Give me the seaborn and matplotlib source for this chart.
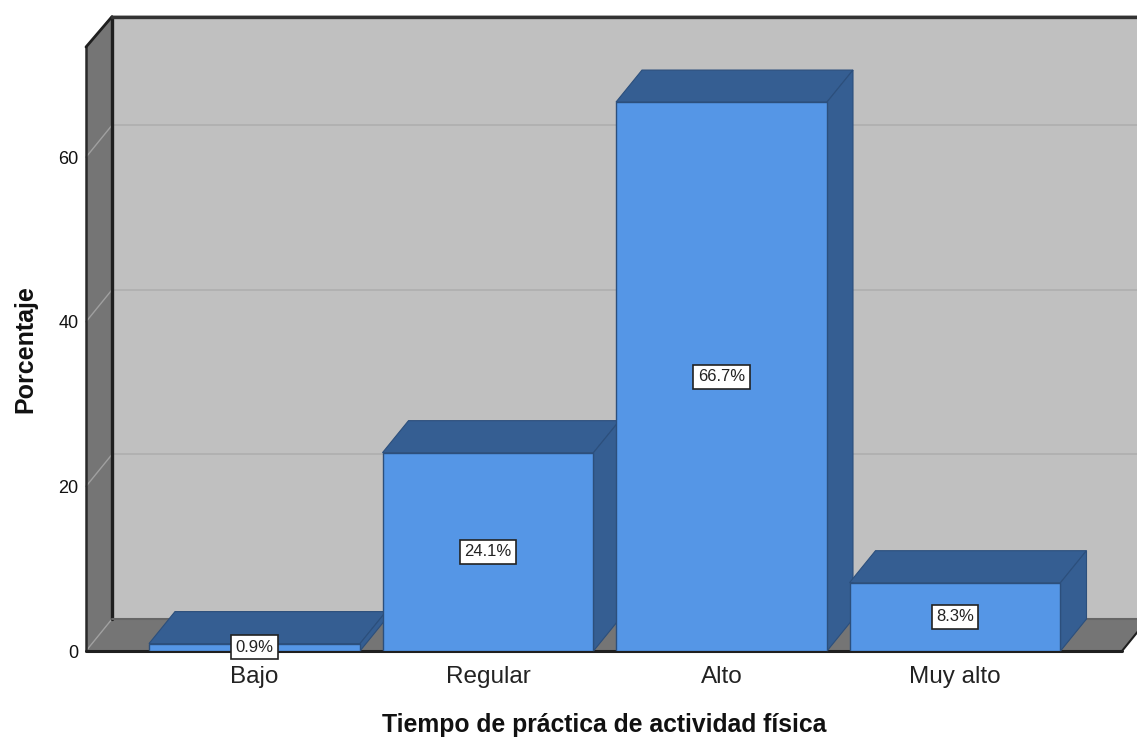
import matplotlib
matplotlib.use("Agg")
import matplotlib.pyplot as plt
from matplotlib.patches import Polygon
import seaborn as sns

categories = ["Bajo", "Regular", "Alto", "Muy alto"]
percentages = [0.9, 24.1, 66.7, 8.3]
value_labels = ["0.9%", "24.1%", "66.7%", "8.3%"]
y_ticks = [0, 20, 40, 60]

FRONT = "#5596e6"
SHADE = "#355e92"
EDGE = "#2c4f7c"
WALL = "#c0c0c0"
DARK_WALL = "#757575"
GRID = "#adadad"
FRAME = "#1f1f1f"

W, H = 1137, 738
sns.set_style("white")
plt.rcParams["font.family"] = ["Liberation Sans", "DejaVu Sans"]

fig = plt.figure(figsize=(W / 100, H / 100), dpi=100)
ax = fig.add_axes([86 / W, (H - 651) / H, 1036 / W, 604 / H])

bar_width = 0.9036
sns.barplot(x=categories, y=percentages, color=FRONT, saturation=1, width=bar_width,
            edgecolor=EDGE, linewidth=1, ax=ax, zorder=5)

xmin, xmax = -0.7216, 3.7152
ymax = 604 / 8.23
ax.set_xlim(xmin, xmax)
ax.set_ylim(0, ymax)

# Oblique depth of the box, in data units
dx = 26 / 233.5
dy = 32 / 8.23


def poly(points, face, edge="none", lw=0.0, z=1):
    ax.add_patch(Polygon(points, closed=True, facecolor=face, edgecolor=edge,
                         linewidth=lw, zorder=z, clip_on=False))


def line(xs, ys, color, lw, z):
    ax.plot(xs, ys, color=color, lw=lw, zorder=z, clip_on=False, solid_capstyle="round")


# Back wall, side wall and floor
poly([(xmin + dx, dy), (xmax + dx, dy), (xmax + dx, ymax + dy), (xmin + dx, ymax + dy)], WALL, z=0.5)
poly([(xmin, 0), (xmin + dx, dy), (xmin + dx, ymax + dy), (xmin, ymax)], DARK_WALL, z=1)
poly([(xmin, 0), (xmax, 0), (xmax + dx, dy), (xmin + dx, dy)], DARK_WALL, z=1)

# Gridlines run across the back wall and fold down the side wall
for t in y_ticks[1:]:
    line([xmin + dx, xmax + dx], [t + dy, t + dy], GRID, 1.1, 1.5)
    line([xmin, xmin + dx], [t, t + dy], "#a0a0a0", 1.0, 1.5)
line([xmin, xmin + dx], [0, dy], "#a0a0a0", 1.0, 1.5)

# Frame of the box
line([xmin, xmin], [0, ymax], "#2a2a2a", 1.8, 2)
line([xmin, xmin + dx], [ymax, ymax + dy - 0.2], FRAME, 2, 2)
line([xmin + dx, xmin + dx], [dy, ymax + dy - 0.2], FRAME, 2.4, 2)
line([xmin + dx, xmax + dx], [ymax + dy - 0.2, ymax + dy - 0.2], "#333333", 2.4, 2)
line([xmin, xmax], [0, 0], FRAME, 2.2, 2)
line([xmin + dx, xmax + dx], [dy, dy], "#666666", 1.5, 2)
line([xmax, xmax + dx], [0, dy], FRAME, 1.5, 2)

# Top and side faces of each bar
half = bar_width / 2
for i, v in enumerate(percentages):
    left, right = i - half, i + half
    poly([(left, v), (right, v), (right + dx, v + dy), (left + dx, v + dy)],
         SHADE, edge=EDGE, lw=0.8, z=4)
    poly([(right, 0), (right + dx, dy), (right + dx, v + dy), (right, v)],
         SHADE, edge=EDGE, lw=0.8, z=4)
    ax.text(i, v / 2 if v > 2 else 0.45, value_labels[i], ha="center", va="center",
            fontsize=12, color="#222222", zorder=7,
            bbox=dict(boxstyle="square,pad=0.27", facecolor="white",
                      edgecolor="#222222", linewidth=1.2))

ax.set_yticks(y_ticks)
ax.set_xticks(range(4))
ax.set_xticklabels(categories)
ax.tick_params(axis="x", length=0, pad=11, labelsize=17.5, labelcolor="#222222")
ax.tick_params(axis="y", length=0, pad=5.5, labelsize=13, labelcolor="#111111")
sns.despine(ax=ax, left=True, bottom=True, top=True, right=True)

ax.set_xlabel("Tiempo de práctica de actividad física", fontsize=17.8, fontweight="bold",
              color="#111111")
ax.xaxis.set_label_coords(0.5, -(713 - 651) / 604)
ax.set_ylabel("Porcentaje", fontsize=18, fontweight="bold", color="#111111")
ax.yaxis.set_label_coords((37 - 86) / 1036, 0.5)

fig.savefig("out.png", dpi=100, facecolor="white")
